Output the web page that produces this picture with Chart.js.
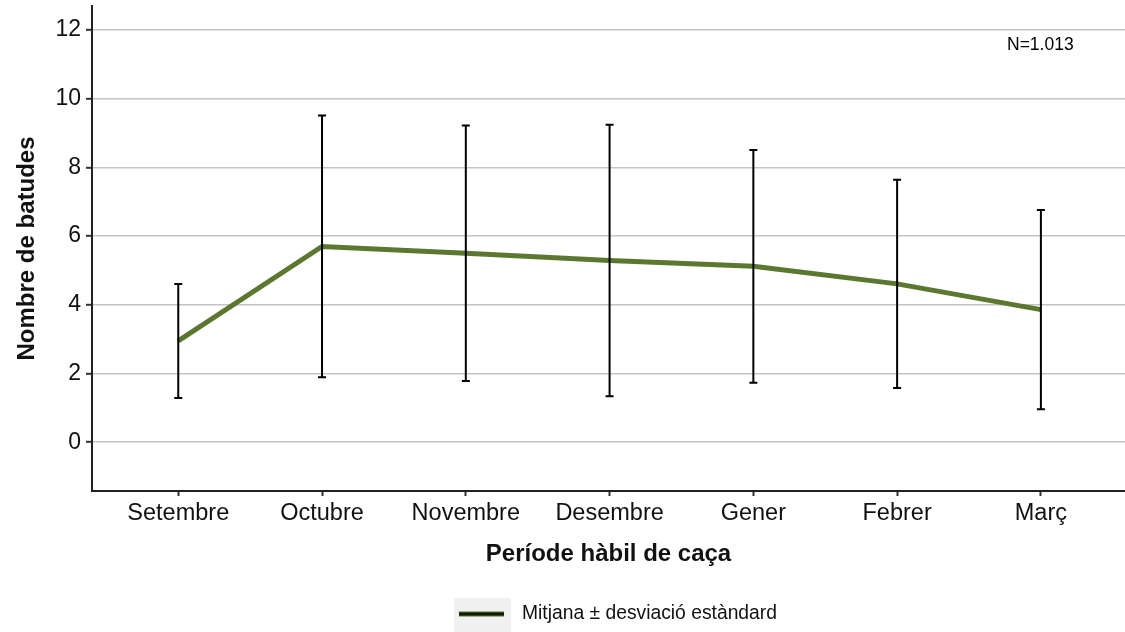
<!DOCTYPE html>
<html>
<head>
<meta charset="utf-8">
<script src="https://cdn.jsdelivr.net/npm/chart.js@4.4.1/dist/chart.umd.min.js"></script>
<style>
  html, body { margin: 0; padding: 0; background: #ffffff; }
  canvas { display: block; }
</style>
</head>
<body>
<canvas id="c" width="1125" height="632"></canvas>
<script>
// ---- data ----
const categories = ['Setembre', 'Octubre', 'Novembre', 'Desembre', 'Gener', 'Febrer', 'Març'];
const means = [2.95, 5.70, 5.50, 5.29, 5.12, 4.61, 3.86];
const sds   = [1.66, 3.81, 3.72, 3.95, 3.39, 3.03, 2.90];
const yTickValues = [0, 2, 4, 6, 8, 10, 12];
const xTitle = 'Període hàbil de caça';
const yTitle = 'Nombre de batudes';
const legendLabel = 'Mitjana ± desviació estàndard';
const noteLabel = 'N=1.013';

const FONT = "'Liberation Sans', Arial, Helvetica, sans-serif";
const lineColor = '#5b7730';

const errorBarPlugin = {
  id: 'errorBars',
  afterDatasetsDraw(chart) {
    const {ctx, scales: {x, y}} = chart;
    ctx.save();
    ctx.strokeStyle = '#000000';
    ctx.lineWidth = 2;
    ctx.lineCap = 'butt';
    means.forEach((m, i) => {
      const px = x.getPixelForValue(i);
      const top = y.getPixelForValue(m + sds[i]);
      const bot = y.getPixelForValue(m - sds[i]);
      ctx.beginPath();
      ctx.moveTo(px, top); ctx.lineTo(px, bot);
      ctx.moveTo(px - 4, top); ctx.lineTo(px + 4, top);
      ctx.moveTo(px - 4, bot); ctx.lineTo(px + 4, bot);
      ctx.stroke();
    });
    ctx.restore();
  },
  afterDraw(chart) {
    const {ctx} = chart;
    ctx.save();
    // note
    ctx.fillStyle = '#000000';
    ctx.font = '17.5px ' + FONT;
    ctx.textBaseline = 'middle';
    ctx.textAlign = 'left';
    ctx.fillText(noteLabel, 1007, 45);
    // legend
    ctx.fillStyle = '#f0f0f0';
    ctx.fillRect(454, 598, 57, 40);
    ctx.fillStyle = lineColor;
    ctx.fillRect(459, 611.5, 45, 5);
    ctx.fillStyle = '#111a08';
    ctx.fillRect(459, 612.5, 45, 3);
    ctx.fillStyle = '#111111';
    ctx.font = '19.3px ' + FONT;
    ctx.fillText(legendLabel, 522, 614);
    ctx.restore();
  }
};

new Chart(document.getElementById('c'), {
  type: 'line',
  data: {
    datasets: [{
      label: legendLabel,
      data: means.map((m, i) => ({x: i, y: m})),
      borderColor: lineColor,
      borderWidth: 5,
      pointRadius: 0,
      tension: 0,
      fill: false
    }]
  },
  options: {
    responsive: false,
    animation: false,
    devicePixelRatio: 1,
    layout: { padding: { top: 6, left: 0, right: 0, bottom: 61 } },
    plugins: { legend: { display: false }, tooltip: { enabled: false } },
    scales: {
      x: {
        type: 'linear',
        min: -0.6,
        max: 6.585,
        afterBuildTicks(scale) { scale.ticks = categories.map((_, i) => ({value: i})); },
        afterFit(scale) { scale.height = 80; scale.paddingLeft = 0; scale.paddingRight = 0; },
        ticks: {
          autoSkip: false,
          maxRotation: 0,
          padding: 3,
          color: '#111111',
          font: { family: FONT, size: 23.5 },
          callback: (v) => categories[v]
        },
        grid: { drawOnChartArea: false, drawTicks: true, tickLength: 5, tickColor: '#333333', tickWidth: 2 },
        border: { display: true, color: '#222222', width: 2 },
        title: {
          display: true, text: xTitle, color: '#111111',
          font: { family: FONT, size: 24, weight: 'bold' },
          padding: { top: 0, bottom: 2 }
        }
      },
      y: {
        type: 'linear',
        min: -1.42,
        max: 12.7,
        afterBuildTicks(scale) { scale.ticks = yTickValues.map(v => ({value: v})); },
        afterFit(scale) { scale.width = 92; scale.paddingTop = 0; scale.paddingBottom = 0; },
        ticks: {
          includeBounds: false,
          padding: 5,
          color: '#111111',
          font: { family: FONT, size: 23 }
        },
        grid: { color: '#c4c4c4', lineWidth: 1.6, drawTicks: true, tickLength: 6, tickColor: '#333333', tickWidth: 2 },
        border: { display: true, color: '#222222', width: 2 },
        title: {
          display: true, text: yTitle, color: '#111111',
          font: { family: FONT, size: 24, weight: 'bold' },
          padding: { top: 12.5, bottom: 0 }
        }
      }
    }
  },
  plugins: [errorBarPlugin]
});
</script>
</body>
</html>
